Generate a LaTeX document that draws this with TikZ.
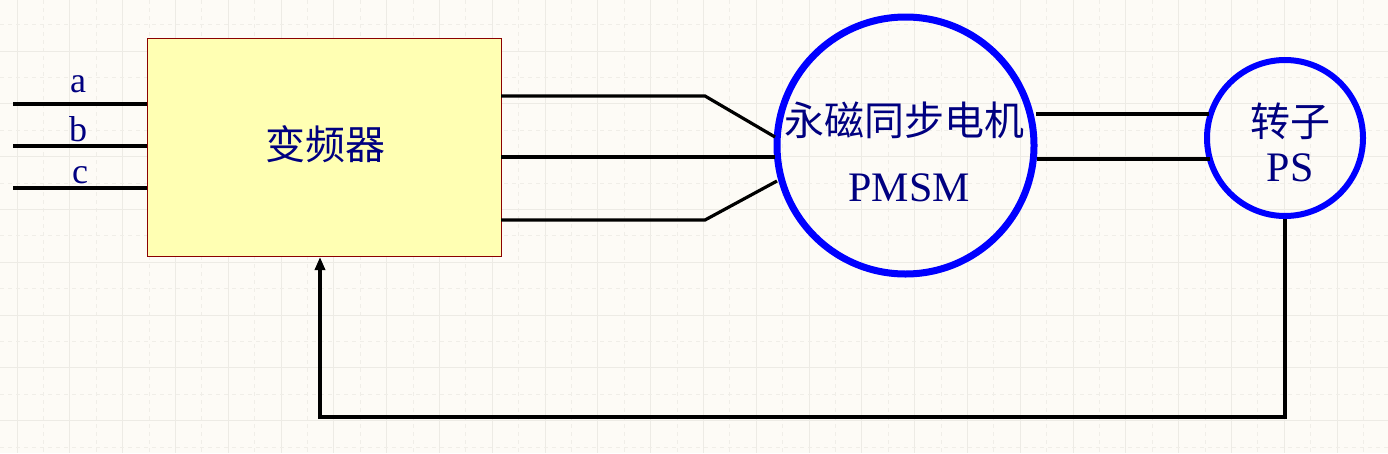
\documentclass[tikz,border=0pt]{standalone}
\usepackage{fontspec}
\setmainfont{Liberation Serif}
\newfontfamily\cjk{Noto Sans CJK SC}
\usetikzlibrary{arrows.meta}
\definecolor{bg}{HTML}{FDFBF6}
\definecolor{gridsolid}{HTML}{EDEBE5}
\definecolor{griddash}{HTML}{F0EEE8}
\definecolor{boxfill}{HTML}{FFFFB3}
\definecolor{boxline}{HTML}{8B0000}
\definecolor{txt}{HTML}{000080}
\definecolor{ring}{HTML}{0000FF}
\tikzset{
  wire/.style={line width=3.2pt, black},
  ringstyle/.style={circle, draw=ring, line width=7pt, inner sep=0pt},
  lbl/.style={text=txt, inner sep=0pt},
  big/.style={lbl, font=\fontsize{42}{46}\selectfont},
  bigcjk/.style={lbl, font=\cjk\fontsize{40}{44}\selectfont},
  abc/.style={lbl, font=\fontsize{36}{40}\selectfont},
}
\begin{document}
\begin{tikzpicture}[x=1pt,y=-1pt]
\useasboundingbox (0,0) rectangle (1388,453);
\fill[bg] (0,0) rectangle (1388,453);
% grid
\foreach \k in {0,...,26} {
  \pgfmathsetmacro{\gx}{17+52.8*\k}
  \pgfmathsetmacro{\hx}{17+52.8*\k+26.4}
  \draw[gridsolid, line width=1pt] (\gx,0) -- (\gx,453);
  \draw[griddash, line width=1pt, dash pattern=on 4pt off 4pt] (\hx,0) -- (\hx,453);
}
\foreach \k in {-1,...,8} {
  \pgfmathsetmacro{\gy}{51+52.8*\k}
  \pgfmathsetmacro{\hy}{51+52.8*\k+26.4}
  \draw[gridsolid, line width=1pt] (0,\gy) -- (1388,\gy);
  \draw[griddash, line width=1pt, dash pattern=on 4pt off 4pt] (0,\hy) -- (1388,\hy);
}
% converter box
\node[draw=boxline, fill=boxfill, line width=1pt, minimum width=354pt, minimum height=218pt, inner sep=0pt, anchor=north west] (vfd) at (147,38) {};
\node[bigcjk] (vfdlbl) at (325,144) {变频器};
% input lines
\coordinate (ina) at (13,104);
\coordinate (inb) at (13,146);
\coordinate (inc) at (13,188);
\draw[wire] (ina) -- (ina -| vfd.west);
\draw[wire] (inb) -- (inb -| vfd.west);
\draw[wire] (inc) -- (inc -| vfd.west);
\node[abc] (la) at (78,84) {a};
\node[abc] (lb) at (78,129) {b};
\node[abc] (lc) at (80,175) {c};
% motor
\node[ringstyle, minimum size=257pt] (pmsm) at (905.5,145.5) {};
\node[bigcjk] (pmsmcn) at (904,120) {永磁同步电机};
\node[big] (pmsmen) at (909,188) {PMSM};
% sensor
\node[ringstyle, line width=6pt, minimum size=156pt] (ps) at (1285,138) {};
\node[bigcjk] (pscn) at (1290,121) {转子};
\node[big] (psen) at (1290,168) {PS};
% converter to motor
\coordinate (o1) at (501,96);
\coordinate (o2) at (501,157);
\coordinate (o3) at (501,220);
\coordinate (k1) at (705,96);
\coordinate (k3) at (705,220);
\coordinate (m1) at (775,137);
\coordinate (m2) at (775,157);
\coordinate (m3) at (777,181);
\draw[wire] (o1) -- (k1) -- (m1);
\draw[wire] (o2) -- (m2);
\draw[wire] (o3) -- (k3) -- (m3);
% motor to sensor
\coordinate (r1a) at (1036,114);
\coordinate (r1b) at (1209,114);
\coordinate (r2a) at (1037,159);
\coordinate (r2b) at (1210,159);
\draw[wire] (r1a) -- (r1b);
\draw[wire] (r2a) -- (r2b);
% feedback
\coordinate (fb) at (320,417);
\draw[wire, -{Triangle[width=10pt,length=13pt]}] (ps.south) |- (fb) -- (fb |- vfd.south);
\end{tikzpicture}
\end{document}
